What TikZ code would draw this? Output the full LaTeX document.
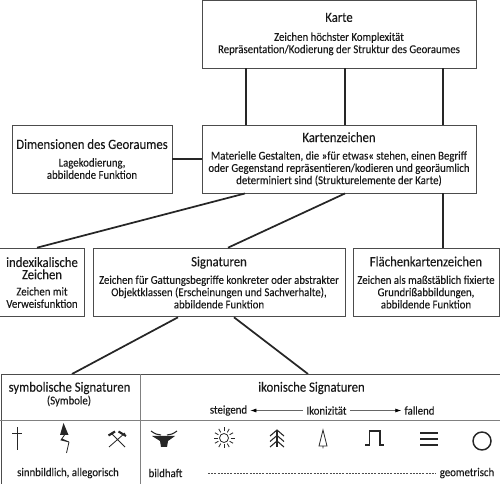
\documentclass[tikz,border=0pt]{standalone}
\usepackage{fontspec}
\setmainfont[FakeStretch=0.9,FakeBold=0.08]{Carlito}
\usetikzlibrary{arrows.meta}
\tikzset{
  kasten/.style={draw=black!70,line width=0.7pt,align=center,inner sep=0pt,font=\fontsize{9}{9.2}\selectfont,text=black!90},
  haupt/.style={draw=black!85,line width=1.3pt},
  tabelle/.style={draw=black!50,line width=0.6pt},
  etikett/.style={inner sep=0.75pt,font=\fontsize{9}{9.2}\selectfont,text=black!90},
  pfeil/.style={draw=black!60,line width=0.5pt,-{Latex[length=4.5pt,width=3pt,black]},shorten >=1.5pt,shorten <=1.5pt},
  symbol/.style={draw=black!85,line width=0.6pt}
}
\newcommand{\titel}[1]{{\fontsize{10.6}{12}\selectfont #1}}
\begin{document}
\begin{tikzpicture}[x=0.75pt,y=0.75pt,yscale=-1,xscale=1]
  \useasboundingbox (0,0) rectangle (500,484);

  % Kaesten
  \node (karte) [kasten,minimum width=205.5pt,minimum height=51pt] at (339,34) {\titel{Karte}\\[5pt]Zeichen höchster Komplexität\\Repräsentation/Kodierung der Struktur des Georaumes};
  \node (zeichen) [kasten,minimum width=205.5pt,minimum height=51pt] at (339,159) {\titel{Kartenzeichen}\\[4pt]Materielle Gestalten, die »für etwas« stehen, einen Begriff\\oder Gegenstand repräsentieren/kodieren und georäumlich\\determiniert sind (Strukturelemente der Karte)};
  \node (dimension) [kasten,minimum width=120pt,minimum height=51pt] at (92,159) {\titel{Dimensionen des Georaumes}\\[4pt]Lagekodierung,\\abbildende Funktion};
  \node (index) [kasten,minimum width=63.5pt,minimum height=51.5pt] at (42,282.5) {\titel{indexikalische}\\\titel{Zeichen}\\[3pt]Zeichen mit\\Verweisfunktion};
  \node (signatur) [kasten,minimum width=189pt,minimum height=51.5pt] at (219,282.5) {\titel{Signaturen}\\[4pt]Zeichen für Gattungsbegriffe konkreter oder abstrakter\\Objektklassen (Erscheinungen und Sachverhalte),\\abbildende Funktion};
  \node (flaeche) [kasten,minimum width=109.5pt,minimum height=51.5pt] at (426,282.5) {\titel{Flächenkartenzeichen}\\[4pt]Zeichen als maßstäblich fixierte\\Grundrißabbildungen,\\abbildende Funktion};

  % Verbindungen
  \foreach \versatz in {-69.75pt,4.5pt,78pt}
    \draw [haupt] ([xshift=\versatz]karte.south) -- ([xshift=\versatz]zeichen.north);
  \draw [haupt] (dimension.east) -- (zeichen.west);
  \draw [haupt] ([xshift=-70.5pt]zeichen.south) -- ([xshift=-3.75pt]index.north);
  \draw [haupt] ([xshift=4.5pt]zeichen.south) -- ([xshift=6.75pt]signatur.north);
  \draw [haupt] ([xshift=78pt]zeichen.south) -- ([xshift=12.75pt]flaeche.north);

  % Tabelle
  \coordinate (symlinks) at (72,374);
  \coordinate (ikorechts) at (308,374);
  \draw [haupt] ([xshift=-30.75pt]signatur.south) -- (symlinks);
  \draw [haupt] ([xshift=11.25pt]signatur.south) -- (ikorechts);
  \draw [draw=black!70,line width=0.7pt] (1,484) -- (1,374) -- (500,374);
  \draw [tabelle] (140,374) -- (140,484);
  \draw [tabelle] (0,420) -- (500,420);

  \node (symtitel) [etikett,font=\fontsize{10.6}{12}\selectfont] at (69.5,388) {symbolische Signaturen};
  \node (symklammer) [etikett] at (69,401) {(Symbole)};
  \node (ikotitel) [etikett,font=\fontsize{10.6}{12}\selectfont] at (311.5,388) {ikonische Signaturen};
  \node (steigend) [etikett] at (228.5,410.5) {steigend};
  \node (ikon) [etikett] at (326.5,410.5) {Ikonizität};
  \node (fallend) [etikett] at (419.5,410.5) {fallend};
  \draw [pfeil] (ikon) -- (steigend);
  \draw [pfeil] (ikon) -- (fallend);
  \node (sinn) [etikett] at (68,473) {sinnbildlich, allegorisch};
  \node (bild) [etikett] at (165.5,473) {bildhaft};
  \node (geo) [etikett] at (467,473) {geometrisch};
  \draw [draw=black!70,line width=0.5pt,dash pattern=on 1.5pt off 0.9pt,shorten >=2.5pt] (208,473) -- (geo);

  % Kreuz
  \draw [symbol,line width=0.6pt] (17,427) -- (17,450) (12,433) -- (22,433);
  % Blitz
  \fill [black!85] (63.5,423) -- (60,435) -- (68.5,435) -- cycle;
  \draw [symbol] (64.5,435) -- (61,440) -- (69,442) -- (62,439) (69,442) -- (66.5,453);
  % Schlaegel und Eisen
  \draw [symbol] (109,447) -- (125,433) (125,447) -- (111,433);
  \draw [symbol,line width=1.6pt] (108.5,435.5) -- (115,431.5) (118.5,431.5) -- (126,436);
  % Stierkopf
  \fill [black!85] (152,436) -- (175,436) -- (168,441) -- (167,447) -- (161,447) -- (160,441) -- cycle;
  \draw [symbol,line width=0.8pt] (151,431) .. controls (155,434) and (158,435) .. (161,435) (177,431) .. controls (173,434) and (170,435) .. (167,435);
  % Sonne
  \draw [symbol] (224,438) circle (4.5);
  \foreach \winkel in {0,30,...,330}
    \draw [symbol] (224,438) ++(\winkel:6.5) -- ++(\winkel:4);
  % Baum
  \draw [symbol,line width=0.8pt] (277,430) -- (277,447);
  \foreach \ypos in {430,435.5,441}
    \draw [symbol,line width=0.8pt] (270,\ypos+6) -- (277,\ypos) -- (284,\ypos+6);
  % Nadelbaum
  \draw [symbol] (323,430) -- (319,446) -- (327,446) -- cycle (323,446) -- (323,448.5);
  % Rechteckimpuls
  \draw [symbol,line width=1.1pt] (365,445) -- (369.5,445) -- (369.5,431) -- (380,431) -- (380,445) -- (384,445);
  % Linien
  \draw [symbol,line width=1.1pt] (420,433) -- (437.5,433) (420,439) -- (437.5,439) (420,445) -- (437.5,445);
  % Kreis
  \draw [symbol,line width=1.1pt] (482,441) circle (9);
\end{tikzpicture}
\end{document}
